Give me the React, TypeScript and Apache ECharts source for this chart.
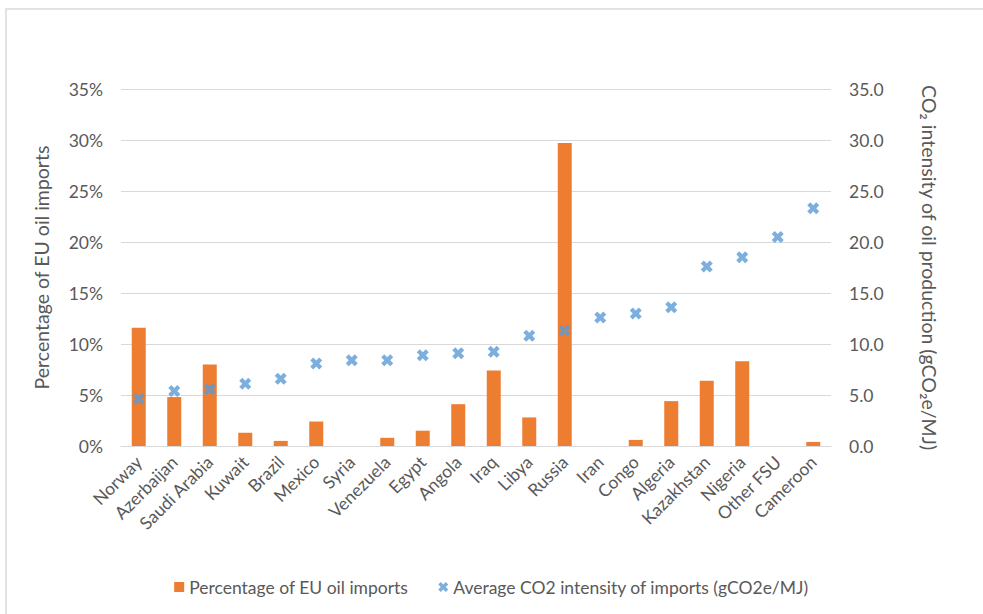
import React, { useEffect, useRef } from "react";
import * as echarts from "echarts";

const countries = [
  "Norway", "Azerbaijan", "Saudi Arabia", "Kuwait", "Brazil", "Mexico", "Syria",
  "Venezuela", "Egypt", "Angola", "Iraq", "Libya", "Russia", "Iran", "Congo",
  "Algeria", "Kazakhstan", "Nigeria", "Other FSU", "Cameroon",
];
// Percentage of EU oil imports (%)
const importShare = [
  11.6, 4.8, 8.0, 1.3, 0.5, 2.4, 0, 0.8, 1.5, 4.1, 7.4, 2.8, 29.7, 0, 0.6,
  4.4, 6.4, 8.3, 0, 0.4,
];
// Average CO2 intensity of imports (gCO2e/MJ)
const co2Intensity = [
  4.6, 5.4, 5.6, 6.1, 6.6, 8.1, 8.4, 8.4, 8.9, 9.1, 9.25, 10.8, 11.3, 12.6,
  13.0, 13.6, 17.6, 18.5, 20.5, 23.3,
];
const leftTicks = [0, 5, 10, 15, 20, 25, 30, 35];
const rightTicks = [0, 5, 10, 15, 20, 25, 30, 35];

const barName = "Percentage of EU oil imports";
const scatterName = "Average CO2 intensity of imports (gCO2e/MJ)";
const leftTitle = "Percentage of EU oil imports";
const rightTitle = "CO\u2082 intensity of oil production (gCO\u2082e/MJ)";

const X_SYMBOL =
  "path://M0,3 L3,0 L6,3 L9,0 L12,3 L9,6 L12,9 L9,12 L6,9 L3,12 L0,9 L3,6 Z";

const FONT = "Lato";
const TEXT = "#595959";
const GRID = "#d9d9d9";
const FS = 17.5;
const TITLE_FS = 19.5;

export default function App() {
  const ref = useRef<HTMLDivElement>(null);
  useEffect(() => {
    if (!ref.current) return;
    const chart = echarts.init(ref.current, undefined, { renderer: "svg" });
    chart.setOption({
      animation: false,
      textStyle: { fontFamily: FONT, color: TEXT },
      graphic: [
        {
          type: "rect",
          shape: { x: 6, y: 9, width: 1200, height: 800 },
          style: { fill: "none", stroke: GRID, lineWidth: 1.5 },
          silent: true,
        },
      ],
      grid: { left: 121, right: 152, top: 89, bottom: 168, containLabel: false },
      legend: {
        top: 573,
        left: "center",
        itemWidth: 10,
        itemHeight: 10,
        itemGap: 30,
        textStyle: { fontFamily: FONT, fontSize: FS, color: TEXT },
        data: [
          { name: barName, icon: "rect" },
          { name: scatterName, icon: X_SYMBOL },
        ],
      },
      xAxis: {
        type: "category",
        data: countries,
        axisLine: { show: true, lineStyle: { color: GRID, width: 1 } },
        axisTick: { show: false },
        axisLabel: {
          interval: 0,
          rotate: 45,
          margin: 13,
          fontFamily: FONT,
          fontSize: FS,
          color: TEXT,
        },
      },
      yAxis: [
        {
          type: "value",
          min: leftTicks[0],
          max: leftTicks[leftTicks.length - 1],
          interval: leftTicks[1] - leftTicks[0],
          name: leftTitle,
          nameLocation: "middle",
          nameGap: 70,
          nameRotate: 90,
          nameTextStyle: { fontFamily: FONT, fontSize: TITLE_FS, color: TEXT },
          axisLine: { show: false },
          axisTick: { show: false },
          axisLabel: {
            margin: 18,
            fontFamily: FONT,
            fontSize: FS,
            color: TEXT,
            formatter: (v: number) => `${v}%`,
          },
          splitLine: { show: true, lineStyle: { color: GRID, width: 1 } },
        },
        {
          type: "value",
          position: "right",
          min: rightTicks[0],
          max: rightTicks[rightTicks.length - 1],
          interval: rightTicks[1] - rightTicks[0],
          name: rightTitle,
          nameLocation: "middle",
          nameGap: 88,
          nameRotate: -90,
          nameTextStyle: { fontFamily: FONT, fontSize: TITLE_FS, color: TEXT },
          axisLine: { show: false },
          axisTick: { show: false },
          axisLabel: {
            margin: 18,
            fontFamily: FONT,
            fontSize: FS,
            color: TEXT,
            formatter: (v: number) => v.toFixed(1),
          },
          splitLine: { show: false },
        },
      ],
      series: [
        {
          name: barName,
          type: "bar",
          yAxisIndex: 0,
          data: importShare,
          barWidth: 14,
          itemStyle: { color: "#ED7D31" },
        },
        {
          name: scatterName,
          type: "scatter",
          yAxisIndex: 1,
          data: co2Intensity,
          symbol: X_SYMBOL,
          symbolSize: 12,
          itemStyle: { color: "#5B9BD5" },
        },
      ],
    });
    return () => chart.dispose();
  }, []);
  return (
    <div
      ref={ref}
      style={{ position: "absolute", left: 0, top: 0, width: 983, height: 614 }}
    />
  );
}
